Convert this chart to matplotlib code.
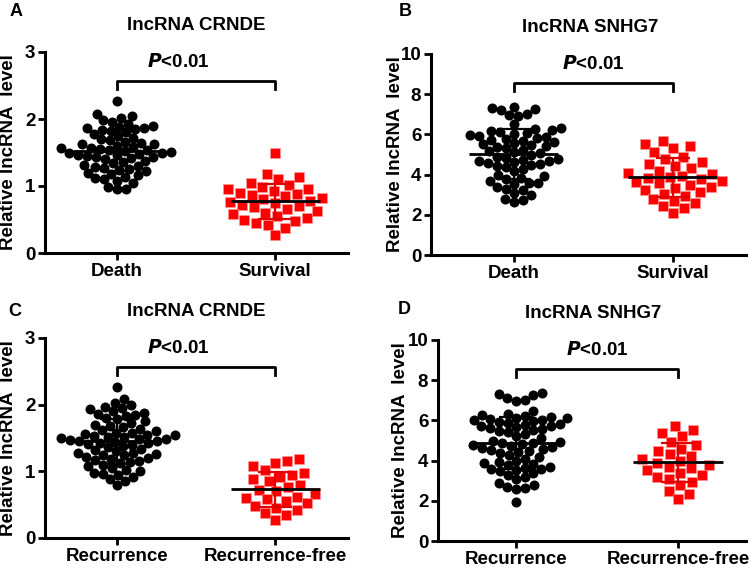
import numpy as np
import matplotlib
matplotlib.use("Agg")
import matplotlib.pyplot as plt

plt.rcParams['font.family'] = ['Liberation Sans', 'DejaVu Sans']
plt.rcParams['font.weight'] = 'bold'

# data
crnde_death = [2.27, 2.08, 2.05, 2.01, 1.98, 1.96, 1.93, 1.90, 1.88, 1.87,
               1.86, 1.85, 1.84, 1.82, 1.80, 1.78, 1.74, 1.72, 1.70, 1.68,
               1.66, 1.64, 1.63, 1.62, 1.60, 1.58, 1.57, 1.56, 1.55, 1.54,
               1.53, 1.52, 1.51, 1.50, 1.49, 1.48, 1.47, 1.46, 1.45, 1.44,
               1.43, 1.42, 1.40, 1.38, 1.36, 1.34, 1.32, 1.30, 1.28, 1.27,
               1.26, 1.24, 1.22, 1.20, 1.18, 1.16, 1.14, 1.12, 1.10, 1.08,
               1.05, 0.98, 0.96, 0.95]
crnde_surv = [1.50, 1.18, 1.13, 1.10, 1.05, 1.02, 0.98, 0.96, 0.95, 0.93,
              0.90, 0.88, 0.87, 0.85, 0.82, 0.80, 0.78, 0.76, 0.75, 0.72,
              0.70, 0.68, 0.65, 0.62, 0.60, 0.58, 0.55, 0.52, 0.50, 0.48,
              0.45, 0.42, 0.38, 0.27]
snhg7_death = [7.35, 7.30, 7.25, 7.20, 7.00, 6.95, 6.90, 6.50, 6.30, 6.25,
               6.20, 6.15, 6.10, 6.05, 6.00, 5.95, 5.90, 5.85, 5.80, 5.75,
               5.70, 5.65, 5.60, 5.55, 5.50, 5.45, 5.40, 5.35, 5.30, 5.20,
               5.15, 5.10, 5.05, 5.00, 4.90, 4.85, 4.80, 4.75, 4.70, 4.70,
               4.65, 4.60, 4.55, 4.50, 4.45, 4.40, 4.30, 4.20, 4.00, 3.95,
               3.85, 3.80, 3.70, 3.60, 3.60, 3.55, 3.40, 3.30, 3.25, 3.10,
               3.00, 2.80, 2.75, 2.65]
snhg7_surv = [5.65, 5.50, 5.40, 5.30, 5.10, 4.90, 4.80, 4.65, 4.55, 4.45,
              4.35, 4.20, 4.10, 4.05, 3.95, 3.90, 3.85, 3.80, 3.70, 3.65,
              3.60, 3.50, 3.40, 3.35, 3.25, 3.15, 3.05, 2.95, 2.80, 2.70,
              2.60, 2.45, 2.35, 2.10]
crnde_rec = [2.27, 2.08, 2.03, 2.00, 1.97, 1.95, 1.93, 1.90, 1.88, 1.86,
             1.85, 1.83, 1.80, 1.78, 1.75, 1.72, 1.70, 1.68, 1.66, 1.64,
             1.62, 1.60, 1.58, 1.57, 1.56, 1.55, 1.54, 1.53, 1.52, 1.51,
             1.50, 1.49, 1.48, 1.47, 1.46, 1.45, 1.44, 1.43, 1.42, 1.41,
             1.40, 1.38, 1.36, 1.34, 1.32, 1.30, 1.28, 1.27, 1.26, 1.25,
             1.24, 1.22, 1.20, 1.18, 1.17, 1.16, 1.14, 1.12, 1.10, 1.08,
             1.05, 1.02, 1.00, 0.98, 0.96, 0.95, 0.92, 0.88, 0.86, 0.80]
crnde_free = [1.18, 1.15, 1.12, 1.08, 1.02, 0.98, 0.95, 0.92, 0.88, 0.85,
              0.80, 0.76, 0.72, 0.70, 0.66, 0.62, 0.60, 0.58, 0.55, 0.52,
              0.48, 0.45, 0.42, 0.38, 0.35, 0.27]
snhg7_rec = [7.35, 7.30, 7.25, 7.10, 7.00, 6.95, 6.45, 6.30, 6.25, 6.20,
             6.15, 6.10, 6.10, 6.05, 6.00, 6.00, 5.95, 5.90, 5.85, 5.80,
             5.75, 5.70, 5.70, 5.65, 5.60, 5.55, 5.50, 5.45, 5.40, 5.30,
             5.20, 5.10, 5.00, 4.95, 4.90, 4.90, 4.85, 4.80, 4.75, 4.70,
             4.65, 4.60, 4.55, 4.50, 4.45, 4.40, 4.30, 4.20, 4.10, 4.00,
             3.95, 3.90, 3.85, 3.80, 3.70, 3.65, 3.60, 3.60, 3.55, 3.50,
             3.40, 3.30, 3.20, 3.10, 2.90, 2.80, 2.70, 2.65, 2.60, 1.95]
snhg7_free = [5.70, 5.50, 5.35, 5.20, 4.95, 4.80, 4.60, 4.50, 4.35, 4.25,
              4.10, 4.00, 3.90, 3.80, 3.70, 3.65, 3.55, 3.40, 3.30, 3.20,
              3.10, 2.95, 2.80, 2.50, 2.35, 2.10]

cats_ds = ['Death', 'Survival']
cats_rf = ['Recurrence', 'Recurrence-free']

W, H = 753, 574
fig = plt.figure(figsize=(W / 100, H / 100), dpi=100)


def px_axes(l, r, t, b):
    return fig.add_axes([l / W, 1 - b / H, (r - l) / W, (b - t) / H])


def swarm_x(ax, xc, vals, diam, k=0.8):
    # simple beeswarm in pixel space; k<1 lets points overlap, k>1 leaves gaps
    vals = np.asarray(vals, float)
    pts = ax.transData.transform(np.column_stack([np.full(len(vals), xc), vals]))
    ys = pts[:, 1]
    ppu = ax.transData.transform([[1, 0]])[0, 0] - ax.transData.transform([[0, 0]])[0, 0]
    dmin = k * diam
    placed = []
    offs = np.zeros(len(vals))
    for i in np.argsort(ys):
        y = ys[i]
        near = [(px, py) for px, py in placed if abs(py - y) < dmin]
        for j in range(400):
            off = ((j + 1) // 2) * 1.0 * (1 if j % 2 else -1)
            if all((off - px) ** 2 + (y - py) ** 2 >= dmin ** 2 for px, py in near):
                break
        placed.append((off, y))
        offs[i] = off
    return xc + offs / ppu


def panel(ax, cats, g1, g2, ymax, step, xlim, br, label_x):
    ax.set_xlim(*xlim)
    ax.set_ylim(0, ymax)
    ax.scatter(swarm_x(ax, 0, g1, 10, 0.87), g1, s=52, marker='o', color='black',
               linewidths=0, zorder=2, clip_on=False)
    ax.scatter(swarm_x(ax, 1, g2, 9.5, 1.25), g2, s=46, marker='s', color='#ff0000',
               edgecolors='#ff9a9a', linewidths=0.4, zorder=2, clip_on=False)
    for i, (g, c) in enumerate([(g1, 'black'), (g2, '#e00000')]):
        m, sd = np.mean(g), np.std(g, ddof=1)
        ax.errorbar(i, m, yerr=sd, fmt='none', ecolor=c, elinewidth=1.6,
                    capsize=12, capthick=1.6, zorder=4)
        ax.hlines(m, i - 0.28, i + 0.28, color='black', lw=2, zorder=5)
    ax.set_xticks([0, 1])
    ax.set_xticklabels(cats)
    ax.set_yticks(np.arange(0, ymax + 0.01, step))
    ax.set_ylabel('Relative lncRNA  level', fontsize=13.5, fontweight='bold')
    ax.yaxis.set_label_coords(label_x, 0.5)
    for s in ['top', 'right']:
        ax.spines[s].set_visible(False)
    for s in ['left', 'bottom']:
        ax.spines[s].set_linewidth(2.2)
    ax.tick_params(width=2, length=5, labelsize=13.5, pad=2)
    # significance bracket
    y0, y1 = br
    ax.plot([0, 0, 1, 1], [y1, y0, y0, y1], color='black', lw=2, clip_on=False)


axA = px_axes(45, 348, 52, 253)
panel(axA, cats_ds, crnde_death, crnde_surv, 3, 1, (-0.456, 1.46), (2.567, 2.45), -0.092)
axA.text(0.386, 2.85, r'$\bfit{P}$<0.01', ha='center', va='center', fontsize=13.5, fontweight='bold')

axB = px_axes(431, 746, 54, 255)
panel(axB, cats_ds, snhg7_death, snhg7_surv, 10, 2, (-0.52, 1.46), (8.56, 8.16), -0.086)
axB.text(0.5, 9.5, r'$\bfit{P}$<0.01', ha='center', va='center', fontsize=13.5, fontweight='bold')

axC = px_axes(45, 348, 338, 538)
panel(axC, cats_rf, crnde_rec, crnde_free, 3, 1, (-0.456, 1.46), (2.565, 2.44), -0.092)
axC.text(0.386, 2.85, r'$\bfit{P}$<0.01', ha='center', va='center', fontsize=13.5, fontweight='bold')

axD = px_axes(438, 746, 340, 541)
panel(axD, cats_rf, snhg7_rec, snhg7_free, 10, 2, (-0.48, 1.42), (8.56, 8.16), -0.094)
axD.text(0.5, 9.5, r'$\bfit{P}$<0.01', ha='center', va='center', fontsize=13.5, fontweight='bold')

# titles and panel letters
for x, y, s in [(196, 26, 'lncRNA CRNDE'), (590, 27, 'lncRNA SNHG7'),
                (196, 312, 'lncRNA CRNDE'), (593, 314, 'lncRNA SNHG7')]:
    fig.text(x / W, 1 - y / H, s, ha='center', va='center', fontsize=13.5, fontweight='bold')
for x, y, s in [(10, 11, 'A'), (399, 11, 'B'), (8, 311, 'C'), (398, 309, 'D')]:
    fig.text(x / W, 1 - y / H, s, ha='left', va='center', fontsize=13, fontweight='bold')

fig.savefig('out.png', dpi=100)
